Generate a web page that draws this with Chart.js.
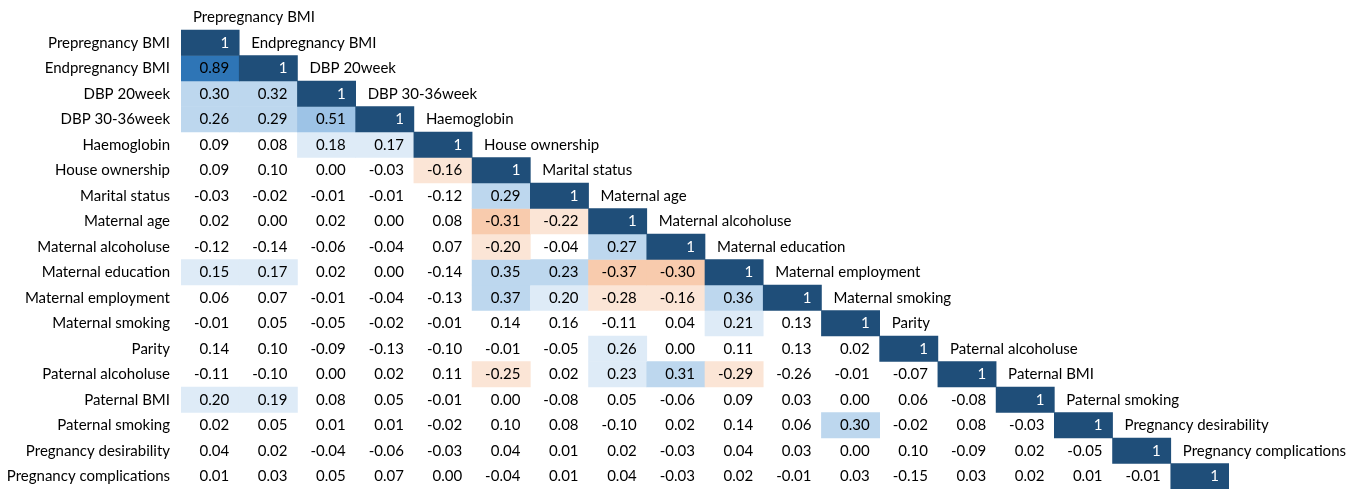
<!DOCTYPE html>
<html>
<head>
<meta charset="utf-8">
<script src="https://cdn.jsdelivr.net/npm/chart.js@4.4.1/dist/chart.umd.min.js"></script>
<style>
    html, body { margin: 0; padding: 0; background: #fff; }
</style>
</head>
<body>
<canvas id="grafico" width="1360" height="489"></canvas>
<script>
const variaveis = [
    'Prepregnancy BMI', 'Endpregnancy BMI', 'DBP 20week', 'DBP 30-36week', 'Haemoglobin',
    'House ownership', 'Marital status', 'Maternal age', 'Maternal alcoholuse', 'Maternal education',
    'Maternal employment', 'Maternal smoking', 'Parity', 'Paternal alcoholuse', 'Paternal BMI',
    'Paternal smoking', 'Pregnancy desirability', 'Pregnancy complications'
];

// triangulo inferior da matriz de correlacao (linha a linha)
const correlacoes = [
    [1],
    [0.89, 1],
    [0.30, 0.32, 1],
    [0.26, 0.29, 0.51, 1],
    [0.09, 0.08, 0.18, 0.17, 1],
    [0.09, 0.10, 0.00, -0.03, -0.16, 1],
    [-0.03, -0.02, -0.01, -0.01, -0.12, 0.29, 1],
    [0.02, 0.00, 0.02, 0.00, 0.08, -0.31, -0.22, 1],
    [-0.12, -0.14, -0.06, -0.04, 0.07, -0.20, -0.04, 0.27, 1],
    [0.15, 0.17, 0.02, 0.00, -0.14, 0.35, 0.23, -0.37, -0.30, 1],
    [0.06, 0.07, -0.01, -0.04, -0.13, 0.37, 0.20, -0.28, -0.16, 0.36, 1],
    [-0.01, 0.05, -0.05, -0.02, -0.01, 0.14, 0.16, -0.11, 0.04, 0.21, 0.13, 1],
    [0.14, 0.10, -0.09, -0.13, -0.10, -0.01, -0.05, 0.26, 0.00, 0.11, 0.13, 0.02, 1],
    [-0.11, -0.10, 0.00, 0.02, 0.11, -0.25, 0.02, 0.23, 0.31, -0.29, -0.26, -0.01, -0.07, 1],
    [0.20, 0.19, 0.08, 0.05, -0.01, 0.00, -0.08, 0.05, -0.06, 0.09, 0.03, 0.00, 0.06, -0.08, 1],
    [0.02, 0.05, 0.01, 0.01, -0.02, 0.10, 0.08, -0.10, 0.02, 0.14, 0.06, 0.30, -0.02, 0.08, -0.03, 1],
    [0.04, 0.02, -0.04, -0.06, -0.03, 0.04, 0.01, 0.02, -0.03, 0.04, 0.03, 0.00, 0.10, -0.09, 0.02, -0.05, 1],
    [0.01, 0.03, 0.05, 0.07, 0.00, -0.04, 0.01, 0.04, -0.03, 0.02, -0.01, 0.03, -0.15, 0.03, 0.02, 0.01, -0.01, 1]
];

// nivel de destaque de cada celula (0 = sem cor)
const niveis = [
    [5],
    [4, 5],
    [2, 2, 5],
    [2, 2, 3, 5],
    [0, 0, 1, 1, 5],
    [0, 0, 0, 0, -1, 5],
    [0, 0, 0, 0, 0, 2, 5],
    [0, 0, 0, 0, 0, -2, -1, 5],
    [0, 0, 0, 0, 0, -1, 0, 2, 5],
    [1, 1, 0, 0, 0, 2, 2, -2, -2, 5],
    [0, 0, 0, 0, 0, 2, 1, -1, -1, 2, 5],
    [0, 0, 0, 0, 0, 0, 0, 0, 0, 1, 0, 5],
    [0, 0, 0, 0, 0, 0, 0, 1, 0, 0, 0, 0, 5],
    [0, 0, 0, 0, 0, -1, 0, 1, 2, -1, 0, 0, 0, 5],
    [1, 1, 0, 0, 0, 0, 0, 0, 0, 0, 0, 0, 0, 0, 5],
    [0, 0, 0, 0, 0, 0, 0, 0, 0, 0, 0, 2, 0, 0, 0, 5],
    [0, 0, 0, 0, 0, 0, 0, 0, 0, 0, 0, 0, 0, 0, 0, 0, 5],
    [0, 0, 0, 0, 0, 0, 0, 0, 0, 0, 0, 0, 0, 0, 0, 0, 0, 5]
];

const coresNivel = {
    '-2': '#F8CBAD', '-1': '#FBE5D6', '0': 'rgba(0,0,0,0)',
    '1': '#DEEBF7', '2': '#BDD7EE', '3': '#9DC3E6', '4': '#2E75B6', '5': '#1F4E79'
};

const fonte = '15px Lato';

const datasets = variaveis.map((nome, r) => {
    const cores = variaveis.map((_, c) => c <= r ? coresNivel[niveis[r][c]] : 'rgba(0,0,0,0)');
    return {
        label: nome,
        data: variaveis.map((_, c) => c <= r ? [r, r + 1] : null),
        backgroundColor: cores,
        borderWidth: 0,
        grouped: false,
        categoryPercentage: 1,
        barPercentage: 1
    };
});

// escreve os nomes e os valores dentro das celulas
const rotulos = {
    id: 'rotulos',
    afterDatasetsDraw(chart) {
        const { ctx, scales: { x, y } } = chart;
        const meia = (x.getPixelForValue(1) - x.getPixelForValue(0)) / 2;
        ctx.save();
        ctx.font = fonte;
        ctx.textBaseline = 'middle';
        variaveis.forEach((nome, r) => {
            const yc = y.getPixelForValue(r + 0.5);
            ctx.fillStyle = '#000';
            ctx.textAlign = 'right';
            ctx.fillText(nome, x.getPixelForValue(0) - meia - 11, yc);
            ctx.textAlign = 'left';
            ctx.fillText(nome, x.getPixelForValue(r) - meia + 12, y.getPixelForValue(r - 0.5));
            ctx.textAlign = 'right';
            correlacoes[r].forEach((v, c) => {
                ctx.fillStyle = c === r ? '#fff' : '#000';
                ctx.fillText(c === r ? '1' : v.toFixed(2), x.getPixelForValue(c) + meia - 10, yc);
            });
        });
        ctx.restore();
    }
};

new Chart(document.getElementById('grafico'), {
    type: 'bar',
    data: { labels: variaveis, datasets },
    options: {
        responsive: false,
        animation: false,
        layout: { padding: { left: 181, right: 131, top: 4.5, bottom: 0 } },
        plugins: {
            legend: { display: false },
            tooltip: { enabled: false }
        },
        scales: {
            x: { type: 'category', display: false },
            y: { type: 'linear', display: false, reverse: true, min: -1, max: 18 }
        }
    },
    plugins: [rotulos]
});
</script>
</body>
</html>
